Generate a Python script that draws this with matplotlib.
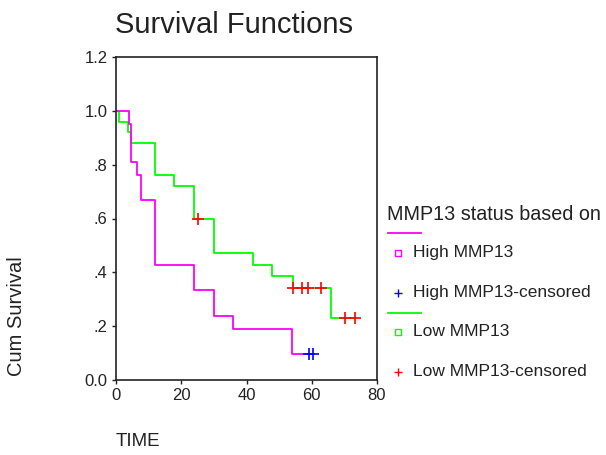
import matplotlib
matplotlib.use('Agg')
import matplotlib.pyplot as plt
from matplotlib.lines import Line2D

plt.rcParams['font.family'] = ['Liberation Sans', 'DejaVu Sans']

# High MMP13 group (step points and censored times)
high_time = [0, 4.0, 4.6, 6.3, 7.7, 12.0, 24.0, 30.0, 36.0, 54.0, 60.3]
high_surv = [1.0, 0.952, 0.810, 0.762, 0.667, 0.429, 0.333, 0.238, 0.190, 0.095, 0.095]
high_cens_time = [59.3, 60.3]
high_cens_surv = [0.095, 0.095]

# Low MMP13 group
low_time = [0, 0.8, 3.8, 4.6, 12.0, 17.7, 23.8, 30.0, 41.9, 47.9, 54.2, 66.0, 73.4]
low_surv = [1.0, 0.96, 0.92, 0.88, 0.76, 0.72, 0.60, 0.471, 0.429, 0.386, 0.343, 0.229, 0.229]
low_cens_time = [25.0, 54.2, 57.1, 59.0, 62.9, 70.2, 73.4]
low_cens_surv = [0.60, 0.343, 0.343, 0.343, 0.343, 0.229, 0.229]

x_ticks = [0, 20, 40, 60, 80]
y_ticks = [0.0, 0.2, 0.4, 0.6, 0.8, 1.0, 1.2]
y_tick_labels = ['0.0', '.2', '.4', '.6', '.8', '1.0', '1.2']

legend_labels = ['High MMP13', 'High MMP13-censored', 'Low MMP13', 'Low MMP13-censored']

magenta = '#ff00ff'
green = '#00ff00'
red = '#ff0000'
blue = '#0000ff'
ink = '#222222'

fig = plt.figure(figsize=(6.06, 4.55), dpi=100)
ax = fig.add_axes([116 / 606, 1 - 380 / 455, 261 / 606, 323 / 455])

ax.step(low_time, low_surv, where='post', color=green, lw=1.3)
ax.step(high_time, high_surv, where='post', color=magenta, lw=1.3)
ax.plot(low_cens_time, low_cens_surv, '+', color=red, ms=8, mew=1.2, linestyle='none')
ax.plot(high_cens_time, high_cens_surv, '+', color=blue, ms=8, mew=1.2, linestyle='none')

ax.set_xlim(0, 80)
ax.set_ylim(0, 1.2)
ax.set_xticks(x_ticks)
ax.set_yticks(y_ticks)
ax.set_yticklabels(y_tick_labels)
ax.tick_params(direction='out', length=3, width=1, labelsize=12, color=ink,
               labelcolor=ink, pad=3)
for s in ax.spines.values():
    s.set_linewidth(1.2)
    s.set_color(ink)

# hand-placed text in figure pixels
def px(x, y):
    return x / 606, 1 - y / 455

fig.text(*px(115, 25), 'Survival Functions', fontsize=21, ha='left', va='center', color=ink)
fig.text(*px(17, 316), 'Cum Survival', fontsize=14.5, rotation=90, ha='center', va='center', color=ink)
fig.text(*px(116, 441), 'TIME', fontsize=13.5, ha='left', va='center', color=ink)

fig.text(*px(387, 214), 'MMP13 status based on', fontsize=14.2, ha='left', va='center', color=ink)
rows = [
    (233, 253, 293, magenta, blue, legend_labels[0], legend_labels[1]),
    (313, 332, 372, green, red, legend_labels[2], legend_labels[3]),
]
for line_y, lab_y, cens_y, lc, cc, lab, cens_lab in rows:
    x0, y0 = px(388, line_y)
    x1, _ = px(421, line_y)
    fig.add_artist(Line2D([x0, x1], [y0, y0], color=lc, lw=1.3))
    fig.add_artist(Line2D([px(398, 0)[0]], [px(0, lab_y)[1]], marker='s', ms=4.5,
                          mfc='none', mec=lc, mew=1, linestyle='none'))
    fig.text(*px(413, lab_y), lab, fontsize=12.5, ha='left', va='center', color=ink)
    fig.add_artist(Line2D([px(398, 0)[0]], [px(0, cens_y)[1]], marker='+', ms=6,
                          color=cc, mew=1, linestyle='none'))
    fig.text(*px(413, cens_y), cens_lab, fontsize=12.5, ha='left', va='center', color=ink)

fig.savefig('out.png', dpi=100)
